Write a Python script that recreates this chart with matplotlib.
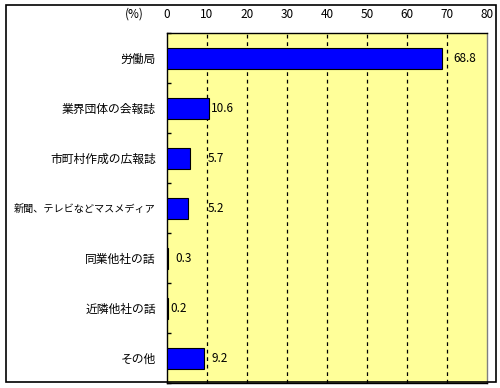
import matplotlib
matplotlib.use("Agg")
import matplotlib.pyplot as plt
from matplotlib.patches import Rectangle
import numpy as np

plt.rcParams['font.family'] = ['Noto Sans CJK JP', 'DejaVu Sans']

categories = ["労働局", "業界団体の会報誌", "市町村作成の広報誌",
              "新聞、テレビなどマスメディア", "同業他社の話", "近隣他社の話", "その他"]
values = [68.8, 10.6, 5.7, 5.2, 0.3, 0.2, 9.2]
xticks = [0, 10, 20, 30, 40, 50, 60, 70, 80]

# label gap from bar end, in pixels (Excel placement is uneven)
label_gap_px = [11, 2, 18, 20, 7, 3, 8]

fig = plt.figure(figsize=(5.0, 3.88), dpi=100)
ax = fig.add_axes([167 / 500, 1 - 383 / 388, 320 / 500, 350 / 388])

y = np.arange(len(categories))
ax.barh(y, values, height=0.42, color="#0000FF", edgecolor="black",
        linewidth=0.8, zorder=3)

for yi, v, gap in zip(y, values, label_gap_px):
    ax.annotate(f"{v:.1f}", xy=(v, yi), xytext=(gap * 0.72, 0),
                textcoords="offset points", ha="left", va="center",
                fontsize=8.5, zorder=4)

ax.set_xlim(0, 80)
ax.set_ylim(len(categories) - 0.5, -0.5)
ax.set_facecolor("#FFFF99")

ax.xaxis.tick_top()
ax.set_xticks(xticks)
ax.tick_params(axis="x", length=0, pad=9, labelsize=8.5)
for x in xticks[1:-1]:
    ax.axvline(x, color="black", linestyle=(0, (3, 3)), linewidth=0.9, zorder=1)

ax.set_yticks(y)
ax.set_yticklabels(categories, fontsize=8.5)
ax.set_yticks(np.arange(len(categories) + 1) - 0.5, minor=True)
ax.tick_params(axis="y", which="major", length=0, pad=8)
ax.tick_params(axis="y", which="minor", direction="in", length=3, width=1)
# long label is set in a narrower proportional font in the original
for lab in ax.get_yticklabels():
    if len(lab.get_text()) > 10:
        lab.set_fontsize(7.3)

for side in ["left", "top", "bottom"]:
    ax.spines[side].set_color("black")
    ax.spines[side].set_linewidth(1)
ax.spines["right"].set_color("#808080")
ax.spines["right"].set_linewidth(1)

ax.annotate("(%)", xy=(0, 1), xycoords="axes fraction", xytext=(-17, 9),
            textcoords="offset points", ha="right", va="bottom", fontsize=8.5)

fig.patches.append(Rectangle((6 / 500, 1 - 382 / 388), 490 / 500, 377 / 388,
                             transform=fig.transFigure, fill=False,
                             edgecolor="black", linewidth=1.2))

fig.savefig("out.png", dpi=100)
